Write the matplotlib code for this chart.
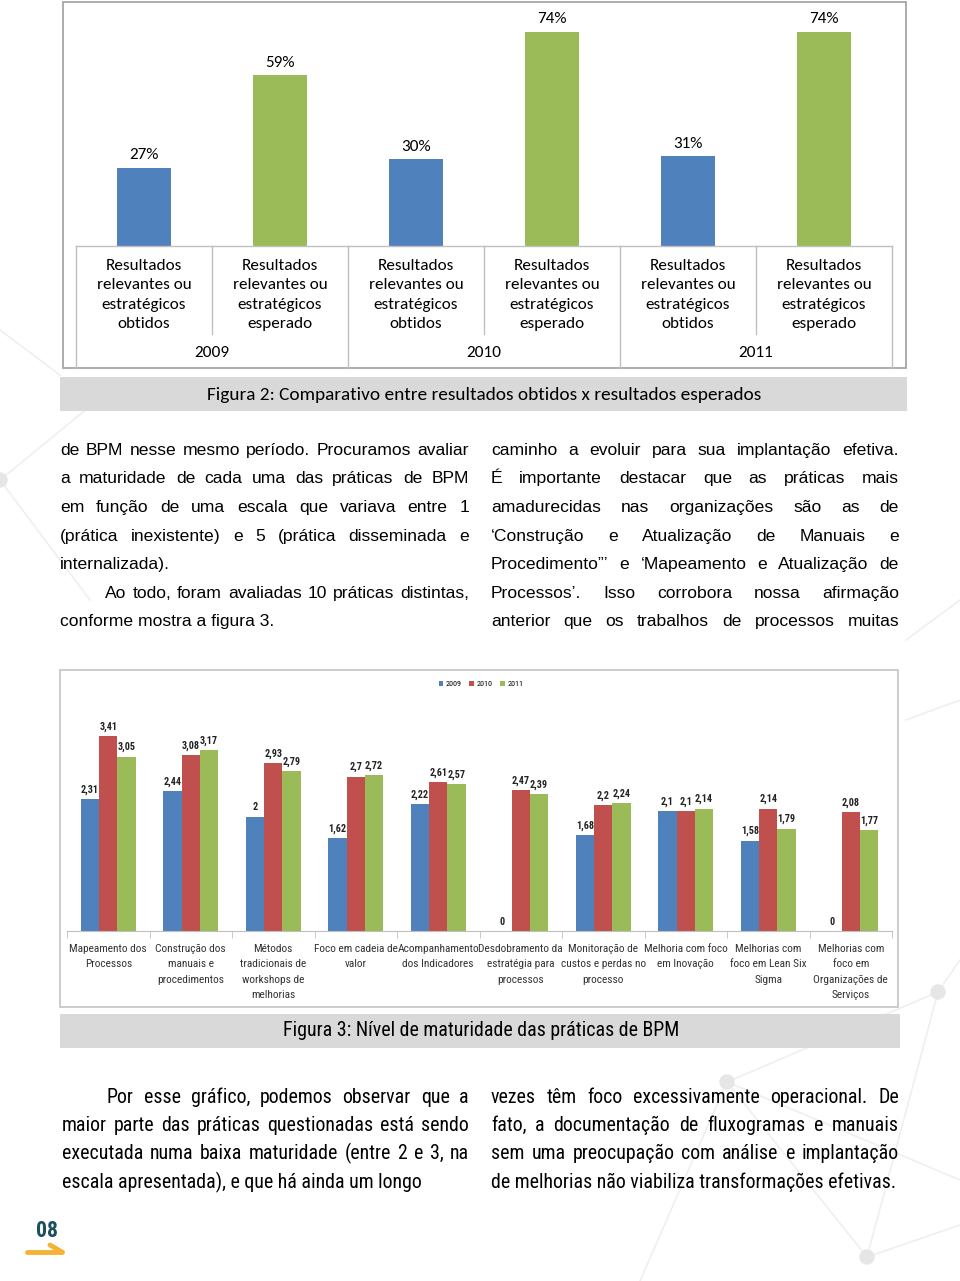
# Figura 2 / Figura 3 - page with two bar charts and justified text
import numpy as np
import matplotlib
matplotlib.use('Agg')
import matplotlib.pyplot as plt
import matplotlib.transforms as mtransforms
from matplotlib import font_manager
from matplotlib.patches import Rectangle, Circle

# ---- data: chart 1 (resultados obtidos x esperados, %)
anos = ['2009', '2010', '2011']
rotulos_fig2 = ['Resultados\nrelevantes ou\nestratégicos\nobtidos',
                'Resultados\nrelevantes ou\nestratégicos\nesperado'] * 3
valores_fig2 = [27, 59, 30, 74, 31, 74]

# ---- data: chart 2 (nivel de maturidade)
praticas = ['Mapeamento dos\nProcessos',
            'Construção dos\nmanuais e\nprocedimentos',
            'Métodos\ntradicionais de\nworkshops de\nmelhorias',
            'Foco em cadeia de\nvalor',
            'Acompanhamento\ndos Indicadores',
            'Desdobramento da\nestratégia para\nprocessos',
            'Monitoração de\ncustos e perdas no\nprocesso',
            'Melhoria com foco\nem Inovação',
            'Melhorias com\nfoco em Lean Six\nSigma',
            'Melhorias com\nfoco em\nOrganizações de\nServiços']
v2009 = [2.31, 2.44, 2, 1.62, 2.22, 0, 1.68, 2.1, 1.58, 0]
v2010 = [3.41, 3.08, 2.93, 2.7, 2.61, 2.47, 2.2, 2.1, 2.14, 2.08]
v2011 = [3.05, 3.17, 2.79, 2.72, 2.57, 2.39, 2.24, 2.14, 1.79, 1.77]

# ---- text
texto_esq1 = ['de BPM nesse mesmo período. Procuramos avaliar',
              'a maturidade de cada uma das práticas de BPM',
              'em função de uma escala que variava entre 1',
              '(prática inexistente) e 5 (prática disseminada e',
              'internalizada).',
              'Ao todo, foram avaliadas 10 práticas distintas,',
              'conforme mostra a figura 3.']
texto_dir1 = ['caminho a evoluir para sua implantação efetiva.',
              'É importante destacar que as práticas mais',
              'amadurecidas nas organizações são as de',
              '‘Construção e Atualização de Manuais e',
              'Procedimento”’ e ‘Mapeamento e Atualização de',
              'Processos’. Isso corrobora nossa afirmação',
              'anterior que os trabalhos de processos muitas']
texto_esq2 = ['Por esse gráfico, podemos observar que a',
              'maior parte das práticas questionadas está sendo',
              'executada numa baixa maturidade (entre 2 e 3, na',
              'escala apresentada), e que há ainda um longo']
texto_dir2 = ['vezes têm foco excessivamente operacional. De',
              'fato, a documentação de fluxogramas e manuais',
              'sem uma preocupação com análise e implantação',
              'de melhorias não viabiliza transformações efetivas.']

azul, vermelho, verde = '#4F81BD', '#C0504D', '#9BBB59'
cinza_linha = '#bfbfbf'

nomes = {f.name for f in font_manager.fontManager.ttflist}


def pick(*cands):
    return [c for c in cands if c in nomes] + ['DejaVu Sans']


calibri = pick('Carlito', 'Lato')
narrow = pick('Liberation Sans Narrow', 'Arial Narrow', 'Roboto Condensed', 'Roboto', 'Lato')
arial = pick('Liberation Sans', 'Arial')

W, H = 960, 1281
fig = plt.figure(figsize=(W / 100, H / 100), dpi=100)
ov = fig.add_axes([0, 0, 1, 1])
ov.set_xlim(0, W)
ov.set_ylim(H, 0)
ov.axis('off')
renderer = fig.canvas.get_renderer()


def text_w(s, **kw):
    t = ov.text(0, 0, s, **kw)
    w = t.get_window_extent(renderer).width
    t.remove()
    return w


def fit_size(s, target, **kw):
    return 10 * target / text_w(s, fontsize=10, **kw)


def put_line(s, x0, x1, y, justify=True, **kw):
    words = s.split()
    if not justify or len(words) == 1:
        ov.text(x0, y, s, ha='left', va='baseline', **kw)
        return
    ws = [text_w(w, **kw) for w in words]
    gap = (x1 - x0 - sum(ws)) / (len(words) - 1)
    x = x0
    for w, wd in zip(words, ws):
        ov.text(x, y, w, ha='left', va='baseline', **kw)
        x += wd + gap


# background decoration (faint network lines)
deco = '#efefef'
for (xa, ya), (xb, yb) in [((938, 992), (960, 960)), ((938, 992), (727, 1082)),
                           ((938, 992), (867, 1257)), ((727, 1082), (867, 1257)),
                           ((727, 1082), (960, 1180)), ((867, 1257), (960, 1225)),
                           ((727, 1082), (640, 1281)), ((0, 480), (110, 390)),
                           ((0, 480), (90, 600)), ((0, 330), (60, 375)),
                           ((906, 640), (960, 600)), ((960, 700), (906, 720))]:
    ov.plot([xa, xb], [ya, yb], color=deco, lw=1.2, zorder=0)
for cx, cy in [(938, 992), (727, 1082), (867, 1257), (0, 480)]:
    ov.add_patch(Circle((cx, cy), 7, color='#e6e6e6', zorder=0))

# ===================== Figura 2 =====================
ov.add_patch(Rectangle((63, 2), 843, 366, fc='white', ec='#a6a6a6', lw=1.3, zorder=1))
ax1 = fig.add_axes([76 / W, 1 - 246 / H, (892 - 76) / W, (246 - 10) / H])
ax1.set_facecolor('none')
px_por_pct = 2.892
ax1.set_xlim(-0.5, 5.5)
ax1.set_ylim(0, 236 / px_por_pct)
x1 = np.arange(len(valores_fig2))
cores1 = [azul, verde] * 3
ax1.bar(x1, valores_fig2, width=0.4, color=cores1)
fs1 = fit_size('relevantes ou', 95, family=calibri)
for xi, v in zip(x1, valores_fig2):
    ax1.annotate(f'{v}%', (xi, v), xytext=(0, 4), textcoords='offset points',
                 ha='center', va='bottom', fontsize=fs1, family=calibri)
for s in ax1.spines.values():
    s.set_visible(False)
ax1.set_xticks([])
ax1.set_yticks([])

tr1 = mtransforms.blended_transform_factory(ax1.transData, ov.transData)
ax1.plot([-0.5, 5.5], [246, 246], color=cinza_linha, lw=1, transform=tr1, clip_on=False)
for i in range(7):
    yb = 368 if i % 2 == 0 else 334
    ax1.plot([i - 0.5, i - 0.5], [246, yb], color=cinza_linha, lw=1,
             transform=tr1, clip_on=False)
for xi, lab in zip(x1, rotulos_fig2):
    ax1.text(xi, 295, lab, transform=tr1, ha='center', va='center',
             fontsize=fs1, family=calibri, linespacing=1.5)
for g, ano in enumerate(anos):
    ax1.text(2 * g + 0.5, 353, ano, transform=tr1, ha='center', va='center',
             fontsize=fs1, family=calibri)

# caption 1
ov.add_patch(Rectangle((60, 377), 847, 34, fc='#d9d9d9', ec='none'))
cap1 = 'Figura 2: Comparativo entre resultados obtidos x resultados esperados'
ov.text(484, 395, cap1, ha='center', va='center',
        fontsize=fit_size(cap1, 555, family=calibri), family=calibri)

# ===================== text block 1 =====================
fsb = 12.6
ys1 = [455, 483, 512, 541, 569, 598, 626]
for k, (ln, y) in enumerate(zip(texto_esq1, ys1)):
    x0 = 105 if k == 5 else 60
    put_line(ln, x0, 469, y, justify=k not in (4, 6), fontsize=fsb, family=arial)
for ln, y in zip(texto_dir1, ys1):
    put_line(ln, 491, 899, y, fontsize=fsb, family=arial)

# ===================== Figura 3 =====================
ov.add_patch(Rectangle((60, 670), 838, 337, fc='white', ec='#c8c8c8', lw=1.3, zorder=1))
ax2 = fig.add_axes([67 / W, 1 - 931 / H, (892 - 67) / W, (931 - 700) / H])
ax2.set_facecolor('none')
ax2.set_xlim(-0.5, 9.5)
ax2.set_ylim(0, 231 / 57.2)
x2 = np.arange(len(praticas))
bw = 0.222
fsv = fit_size('3,41', 18, family=narrow, fontweight='bold')
for k, (vals, cor, ano) in enumerate(zip([v2009, v2010, v2011], [azul, vermelho, verde], anos)):
    xs = x2 + (k - 1) * bw
    ax2.bar(xs, vals, width=bw, color=cor, label=ano)
    for xi, v in zip(xs, vals):
        ax2.annotate(f'{v:g}'.replace('.', ','), (xi, v), xytext=(0, 3),
                     textcoords='offset points', ha='center', va='bottom',
                     fontsize=fsv, fontweight='bold', family=narrow, color='#222222')
for nome in ['top', 'right', 'left']:
    ax2.spines[nome].set_visible(False)
ax2.spines['bottom'].set_color(cinza_linha)
ax2.set_yticks([])
fs2 = fit_size('Acompanhamento', 82, family=narrow)
ax2.set_xticks(x2)
ax2.set_xticklabels(praticas, fontsize=fs2, family=narrow, color='#333333', linespacing=1.7)
ax2.set_xticks(np.arange(-0.5, 10, 1), minor=True)
ax2.tick_params(axis='x', which='major', length=0, pad=9)
ax2.tick_params(axis='x', which='minor', length=5, color=cinza_linha)
fsl = fit_size('2009', 16, family=narrow)
ax2.legend(loc='center', bbox_to_anchor=(481 / W, 1 - 684 / H), bbox_transform=fig.transFigure,
           ncol=3, frameon=False, prop={'family': narrow, 'size': fsl},
           handlelength=0.6, handleheight=0.6, handletextpad=0.3, columnspacing=0.9)

# caption 2
ov.add_patch(Rectangle((60, 1014), 840, 34, fc='#d9d9d9', ec='none'))
cap2 = 'Figura 3: Nível de maturidade das práticas de BPM'
ov.text(481, 1031, cap2, ha='center', va='center',
        fontsize=fit_size(cap2, 394, family=narrow), family=narrow)

# ===================== text block 2 =====================
fsn = fit_size(texto_dir2[3], 402, family=narrow)
ys2 = [1103, 1131, 1159, 1188]
for k, (ln, y) in enumerate(zip(texto_esq2, ys2)):
    x0 = 107 if k == 0 else 62
    put_line(ln, x0, 469, y, justify=k != 3, fontsize=fsn, family=narrow)
for k, (ln, y) in enumerate(zip(texto_dir2, ys2)):
    put_line(ln, 491, 899, y, justify=k != 3, fontsize=fsn, family=narrow)

# page number
ov.text(47, 1231, '08', ha='center', va='center', fontsize=fit_size('08', 22, family=narrow, fontweight='bold'),
        fontweight='bold', family=narrow, color='#1d4f5c')
ov.plot([27, 62], [1252, 1252], color='#f5b335', lw=3.5, solid_capstyle='round')
ov.plot([50, 62], [1245, 1252], color='#f5b335', lw=3.5, solid_capstyle='round')

fig.savefig('out.png', dpi=100)
